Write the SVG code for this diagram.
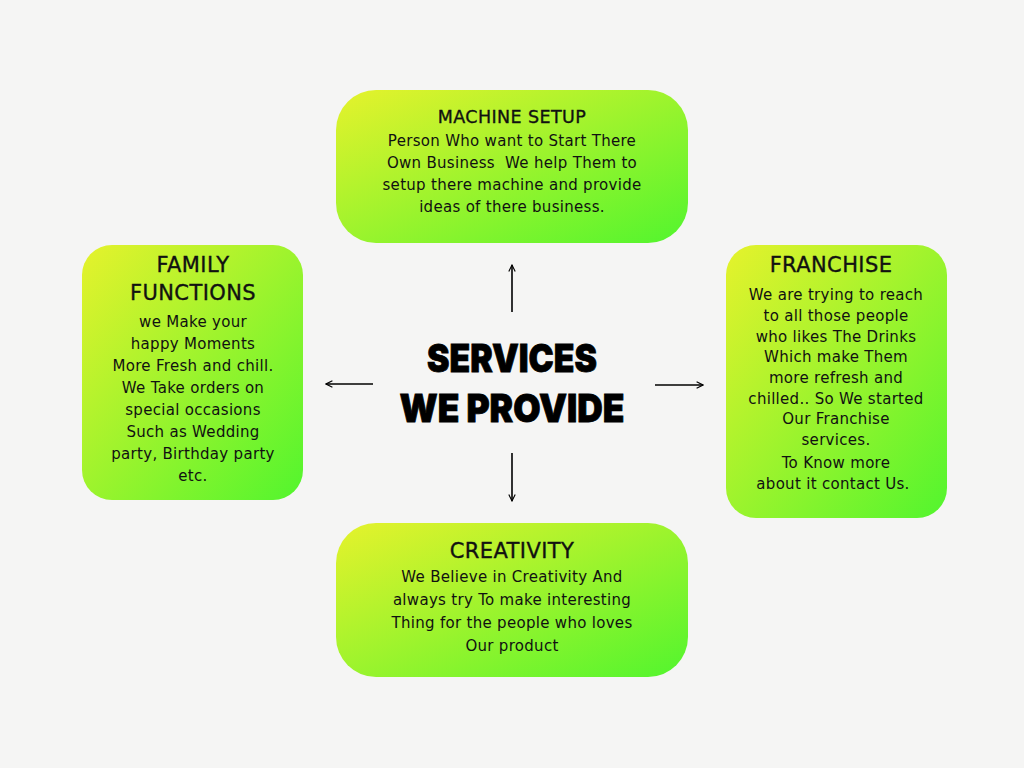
<svg xmlns="http://www.w3.org/2000/svg" width="1024" height="768" viewBox="0 0 1024 768">
  <defs>
    <linearGradient id="lime" x1="0" y1="0" x2="1" y2="1">
      <stop offset="0" stop-color="#e6f22c"/>
      <stop offset="1" stop-color="#52f52e"/>
    </linearGradient>
    <marker id="arrow" viewBox="0 0 10 10" refX="9" refY="5" markerWidth="8" markerHeight="8" markerUnits="userSpaceOnUse" orient="auto">
      <path d="M1,1 L9,5 L1,9" fill="none" stroke="#000" stroke-width="1.4"/>
    </marker>
  </defs>
  <style>
    .card { fill: url(#lime); }
    .head { font-family: "DejaVu Sans", "Liberation Sans", sans-serif; fill: #111; stroke: #111; stroke-width: 0.35; letter-spacing: 0.4px; text-anchor: middle; }
    .body { font-family: "DejaVu Sans", "Liberation Sans", sans-serif; font-size: 15px; letter-spacing: 0.3px; fill: #111; text-anchor: middle; }
    .title { font-family: Inter, "DejaVu Sans", sans-serif; font-weight: 900; font-size: 38px; fill: #000; stroke: #000; stroke-width: 0.8; text-anchor: middle; }
    .link { stroke: #000; stroke-width: 1.6; fill: none; marker-end: url(#arrow); }
  </style>

  <rect width="1024" height="768" fill="#f5f5f4"/>

  <g id="center">
    <text class="title" x="512" y="372" textLength="170" lengthAdjust="spacingAndGlyphs">SERVICES</text>
    <text class="title" x="512" y="422" textLength="225" lengthAdjust="spacingAndGlyphs">WE PROVIDE</text>
  </g>

  <g id="connectors">
    <line class="link" x1="512" y1="312" x2="512" y2="265"/>
    <line class="link" x1="373" y1="384" x2="326" y2="384"/>
    <line class="link" x1="655" y1="385" x2="703" y2="385"/>
    <line class="link" x1="512" y1="453" x2="512" y2="501"/>
  </g>

  <g id="machine-setup">
    <rect class="card" x="336" y="90" width="352" height="153" rx="40"/>
    <text class="head" x="512" y="123" font-size="17.5">MACHINE SETUP</text>
    <text class="body" x="512" y="146">Person Who want to Start There</text>
    <text class="body" x="512" y="168">Own Business&#160; We help Them to</text>
    <text class="body" x="512" y="190">setup there machine and provide</text>
    <text class="body" x="512" y="212">ideas of there business.</text>
  </g>

  <g id="family-functions">
    <rect class="card" x="82" y="245" width="221" height="255" rx="30"/>
    <text class="head" x="193" y="272" font-size="21">FAMILY</text>
    <text class="head" x="193" y="300" font-size="21">FUNCTIONS</text>
    <text class="body" x="193" y="327">we Make your</text>
    <text class="body" x="193" y="349">happy Moments</text>
    <text class="body" x="193" y="371">More Fresh and chill.</text>
    <text class="body" x="193" y="393">We Take orders on</text>
    <text class="body" x="193" y="415">special occasions</text>
    <text class="body" x="193" y="437">Such as Wedding</text>
    <text class="body" x="193" y="459">party, Birthday party</text>
    <text class="body" x="193" y="481">etc.</text>
  </g>

  <g id="franchise">
    <rect class="card" x="726" y="245" width="221" height="273" rx="30"/>
    <text class="head" x="831" y="272" font-size="21">FRANCHISE</text>
    <text class="body" x="836" y="300">We are trying to reach</text>
    <text class="body" x="836" y="321">to all those people</text>
    <text class="body" x="836" y="342">who likes The Drinks</text>
    <text class="body" x="836" y="362">Which make Them</text>
    <text class="body" x="836" y="383">more refresh and</text>
    <text class="body" x="836" y="404">chilled.. So We started</text>
    <text class="body" x="836" y="424">Our Franchise</text>
    <text class="body" x="836" y="445">services.</text>
    <text class="body" x="836" y="468">To Know more</text>
    <text class="body" x="833" y="489">about it contact Us.</text>
  </g>

  <g id="creativity">
    <rect class="card" x="336" y="523" width="352" height="154" rx="40"/>
    <text class="head" x="512" y="558" font-size="21">CREATIVITY</text>
    <text class="body" x="512" y="582">We Believe in Creativity And</text>
    <text class="body" x="512" y="605">always try To make interesting</text>
    <text class="body" x="512" y="628">Thing for the people who loves</text>
    <text class="body" x="512" y="651">Our product</text>
  </g>
</svg>
